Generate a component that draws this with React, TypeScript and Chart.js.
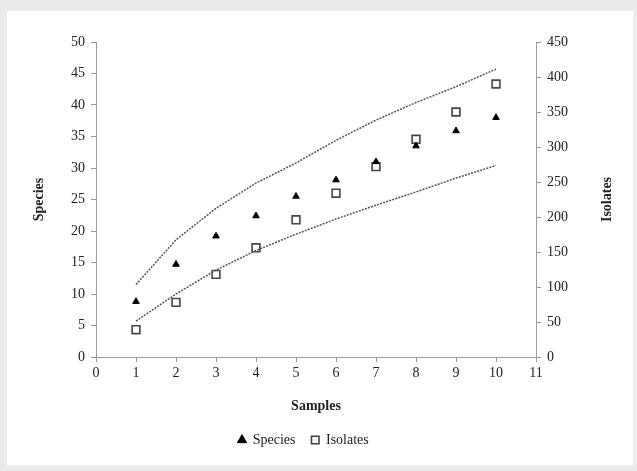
import React, { useEffect, useRef } from "react";
import { Chart, registerables } from "chart.js";

Chart.register(...registerables);

const samples = [1, 2, 3, 4, 5, 6, 7, 8, 9, 10];
const species = [8.8, 14.7, 19.2, 22.4, 25.5, 28.1, 31.0, 33.5, 35.9, 38.0];
const isolates = [39, 78, 118, 156, 196, 234, 272, 311, 350, 390];
const upperBound = [11.5, 18.6, 23.6, 27.6, 30.8, 34.4, 37.6, 40.4, 42.9, 45.7];
const lowerBound = [5.7, 10.0, 13.8, 16.9, 19.5, 21.9, 24.1, 26.2, 28.4, 30.4];

const FONT = "'Liberation Serif', 'Times New Roman', serif";
const TEXT = "#222222";
const AXIS = "#9a9a9a";

const toXY = (ys: number[]) => samples.map((x, i) => ({ x, y: ys[i] }));

const framePlugin = {
  id: "frame",
  beforeDraw(chart: any) {
    const { ctx, width, height } = chart;
    ctx.save();
    ctx.fillStyle = "#ebebeb";
    ctx.fillRect(0, 0, width, height);
    ctx.fillStyle = "#ffffff";
    ctx.fillRect(7, 11, 626, 454);
    ctx.restore();
  },
  afterDraw(chart: any) {
    const { ctx, chartArea } = chart;
    ctx.save();
    ctx.font = `bold 14px ${FONT}`;
    ctx.fillStyle = TEXT;
    ctx.textAlign = "center";
    ctx.textBaseline = "middle";
    ctx.translate(607, (chartArea.top + chartArea.bottom) / 2);
    ctx.rotate(-Math.PI / 2);
    ctx.fillText("Isolates", 0, 0);
    ctx.restore();
  },
};

export default function App() {
  const ref = useRef<HTMLCanvasElement | null>(null);

  useEffect(() => {
    if (!ref.current) return;
    const chart = new Chart(ref.current, {
      type: "scatter",
      data: {
        datasets: [
          {
            label: "Upper",
            data: toXY(upperBound),
            yAxisID: "y",
            showLine: true,
            borderColor: "#555555",
            borderWidth: 1.5,
            borderDash: [2, 1.2],
            pointRadius: 0,
            fill: false,
          },
          {
            label: "Lower",
            data: toXY(lowerBound),
            yAxisID: "y",
            showLine: true,
            borderColor: "#555555",
            borderWidth: 1.5,
            borderDash: [2, 1.2],
            pointRadius: 0,
            fill: false,
          },
          {
            label: "Species",
            data: toXY(species),
            yAxisID: "y",
            pointStyle: "triangle",
            pointRadius: 3.8,
            backgroundColor: "#000000",
            borderColor: "#000000",
            borderWidth: 1,
          },
          {
            label: "Isolates",
            data: toXY(isolates),
            yAxisID: "y2",
            pointStyle: "rect",
            pointRadius: 5.5,
            backgroundColor: "#ffffff",
            borderColor: "#444444",
            borderWidth: 1.6,
          },
        ],
      },
      options: {
        animation: false,
        responsive: false,
        layout: { padding: { top: 42, left: 0, right: 30, bottom: 14 } },
        plugins: {
          tooltip: { enabled: false },
          legend: {
            display: true,
            position: "bottom",
            labels: {
              filter: (item: any) => item.text === "Species" || item.text === "Isolates",
              usePointStyle: true,
              boxWidth: 7.5,
              boxHeight: 7.5,
              padding: 16,
              color: TEXT,
              font: { family: FONT, size: 14 },
            },
          },
        },
        scales: {
          x: {
            type: "linear",
            min: 0,
            max: 11,
            ticks: { stepSize: 1, color: TEXT, font: { family: FONT, size: 14 }, padding: 3 },
            grid: { drawOnChartArea: false, drawTicks: true, tickLength: 5, color: AXIS },
            border: { display: true, color: AXIS, width: 1 },
            title: {
              display: true,
              text: "Samples",
              color: TEXT,
              font: { family: FONT, size: 14, weight: "bold" },
              padding: { top: 0, bottom: 2 },
            },
            afterFit: (s: any) => {
              s.height = 60;
            },
          },
          y: {
            type: "linear",
            position: "left",
            min: 0,
            max: 50,
            ticks: { stepSize: 5, color: TEXT, font: { family: FONT, size: 14 }, padding: 6 },
            grid: { drawOnChartArea: false, drawTicks: true, tickLength: 5, color: AXIS },
            border: { display: true, color: AXIS, width: 1 },
            title: {
              display: true,
              text: "Species",
              color: TEXT,
              font: { family: FONT, size: 14, weight: "bold" },
              padding: { top: 31, bottom: 0 },
            },
            afterFit: (s: any) => {
              s.width = 96;
            },
          },
          y2: {
            type: "linear",
            position: "right",
            min: 0,
            max: 450,
            ticks: { stepSize: 50, color: TEXT, font: { family: FONT, size: 14 }, padding: 6 },
            grid: { drawOnChartArea: false, drawTicks: true, tickLength: 5, color: AXIS },
            border: { display: true, color: AXIS, width: 1 },
            afterFit: (s: any) => {
              s.width = 71;
            },
          },
        },
      },
      plugins: [framePlugin],
    });
    return () => chart.destroy();
  }, []);

  return (
    <div style={{ position: "absolute", left: 0, top: 0, width: 637, height: 471 }}>
      <canvas ref={ref} width={637} height={471} style={{ display: "block", width: 637, height: 471 }} />
    </div>
  );
}
